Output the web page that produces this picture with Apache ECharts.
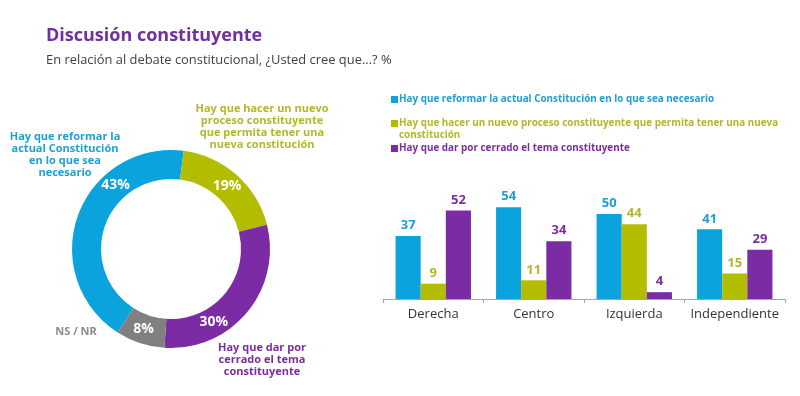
<!DOCTYPE html>
<html>
<head>
<meta charset="utf-8">
<script src="https://cdn.jsdelivr.net/npm/echarts@6/dist/echarts.min.js"></script>
<style>html,body{margin:0;padding:0;background:#fff;}#c{width:800px;height:396px;}</style>
</head>
<body>
<div id="c"></div>
<script>
// ---- Data ----
const titleText = 'Discusión constituyente';
const subtitleText = 'En relación al debate constitucional, ¿Usted cree que...? %';

const pieNames = [
  'Hay que reformar la actual Constitución en lo que sea necesario',
  'Hay que hacer un nuevo proceso constituyente que permita tener una nueva constitución',
  'Hay que dar por cerrado el tema constituyente',
  'NS / NR'
];
const pieLabels = [
  'Hay que reformar la\nactual Constitución\nen lo que sea\nnecesario',
  'Hay que hacer un nuevo\nproceso constituyente\nque permita tener una\nnueva constitución',
  'Hay que dar por\ncerrado el tema\nconstituyente',
  'NS / NR'
];
const pieValues = [43, 19, 30, 8];

const barCategories = ['Derecha', 'Centro', 'Izquierda', 'Independiente'];
const seriesNames = pieNames.slice(0, 3);
// legend text: first line next to the marker, optional continuation line below
const legendFirstLines = [
  'Hay que reformar la actual Constitución en lo que sea necesario',
  'Hay que hacer un nuevo proceso constituyente que permita tener una nueva',
  'Hay que dar por cerrado el tema constituyente'
];
const legendContLines = ['', 'constitución', ''];
const reformar = [37, 54, 50, 41];
const nuevo = [9, 11, 44, 15];
const cerrar = [52, 34, 4, 29];

// ---- Styles ----
const colors = ['#0BA3DD', '#B3BD00', '#7B2BA3', '#808080'];
const textColors = ['#1E9FD8', '#B1B82A', '#7A2EA1', '#8C8C8C'];
const FONT = '"Open Sans", sans-serif';

const PIE_CX = 171, PIE_CY = 249, PIE_R0 = 70, PIE_R1 = 99;
// angle (degrees clockwise from 12 o'clock) where each percentage label sits
const pieLabelAngles = [319, 41.6, 149.5, 199];

const chart = echarts.init(document.getElementById('c'));

const pieLabelPos = [
  {x: 65, y: 131},
  {x: 262, y: 103},
  {x: 262, y: 342},
  {x: 76, y: 326}
];

const graphics = pieLabels.map((t, i) => ({
  type: 'text',
  x: pieLabelPos[i].x,
  y: pieLabelPos[i].y,
  style: {
    text: t,
    align: 'center',
    verticalAlign: 'top',
    fill: textColors[i],
    font: 'bold 11px ' + FONT,
    lineHeight: 12
  }
}));

const legendTops = [89, 113, 138];
legendContLines.forEach((t, i) => {
  if (!t) return;
  graphics.push({
    type: 'text',
    x: 399,
    y: legendTops[i] + 9.5 + 12.5,
    style: {
      text: t, align: 'left', verticalAlign: 'middle',
      fill: textColors[i], font: 'bold 9.9px ' + FONT
    }
  });
});

const barData = [reformar, nuevo, cerrar];

const option = {
  animation: false,
  textStyle: {fontFamily: FONT},
  title: [
    {text: titleText, left: 41, top: 22,
     textStyle: {fontSize: 18, fontWeight: 'bold', color: '#7030A0', fontFamily: FONT}},
    {text: subtitleText, left: 41, top: 49,
     textStyle: {fontSize: 12.9, fontWeight: 'normal', color: '#404040', fontFamily: FONT}}
  ],
  legend: seriesNames.map((n, i) => ({
    data: [n],
    left: 386,
    top: legendTops[i],
    itemWidth: 7,
    itemHeight: 7,
    itemGap: 2,
    icon: 'rect',
    formatter: () => legendFirstLines[i],
    selectedMode: false,
    textStyle: {
      color: textColors[i], fontSize: 9.9, fontWeight: 'bold', fontFamily: FONT,
      lineHeight: 11, padding: [0, 0, 0, -4]
    }
  })),
  graphic: graphics,
  grid: {left: 383, right: 15, top: 197, bottom: 97},
  xAxis: {
    type: 'category',
    data: barCategories,
    axisLine: {lineStyle: {color: '#A6A6A6'}},
    axisTick: {show: true, length: 4, lineStyle: {color: '#A6A6A6'}},
    axisLabel: {interval: 0, fontSize: 13, color: '#333', margin: 9, fontFamily: FONT}
  },
  yAxis: {type: 'value', min: 0, max: 60, show: false, splitLine: {show: false}},
  series: [
    {
      type: 'pie',
      center: [PIE_CX, PIE_CY],
      radius: [PIE_R0, PIE_R1],
      startAngle: 237.4,
      clockwise: true,
      silent: true,
      label: {
        position: 'inside',
        formatter: '{c}%',
        color: '#fff',
        fontSize: 14,
        fontWeight: 'bold',
        fontFamily: FONT
      },
      labelLayout: function (p) {
        const a = pieLabelAngles[p.dataIndex] * Math.PI / 180;
        const r = (PIE_R0 + PIE_R1) / 2;
        return {
          x: PIE_CX + r * Math.sin(a),
          y: PIE_CY - r * Math.cos(a),
          align: 'center',
          verticalAlign: 'middle'
        };
      },
      labelLine: {show: false},
      itemStyle: {borderWidth: 0},
      data: pieValues.map((v, i) => ({name: pieNames[i], value: v, itemStyle: {color: colors[i]}}))
    },
    ...barData.map((d, i) => ({
      type: 'bar',
      name: seriesNames[i],
      data: d,
      barGap: '0%',
      barCategoryGap: '25%',
      itemStyle: {color: colors[i]},
      label: {
        show: true, position: 'top', distance: 4,
        color: textColors[i], fontSize: 13, fontWeight: 'bold', fontFamily: FONT
      }
    }))
  ]
};
chart.setOption(option);
</script>
</body>
</html>
